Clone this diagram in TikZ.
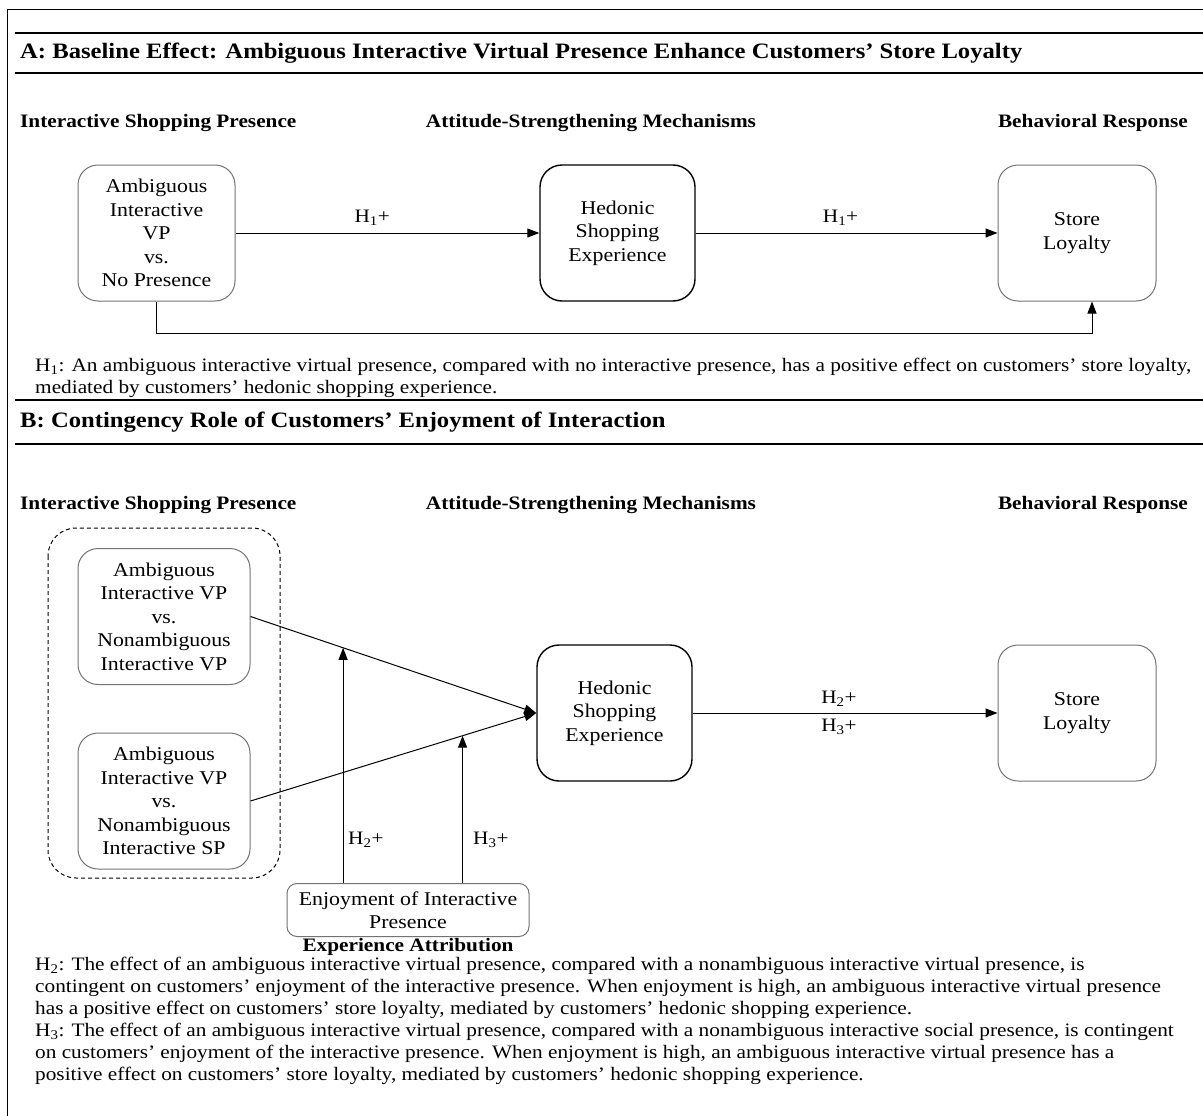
\documentclass[tikz,border=0pt]{standalone}
\usepackage{fontspec}
\setmainfont{Liberation Serif}[FakeStretch=1.12]
\usetikzlibrary{arrows.meta,calc}
\begin{document}
\begin{tikzpicture}[x=1pt,y=-1pt,
  every node/.style={inner sep=0pt},
  body/.style={font=\fontsize{19}{22}\selectfont, align=left},
  head/.style={font=\bfseries\fontsize{22}{26}\selectfont},
  colhead/.style={font=\bfseries\fontsize{19}{23}\selectfont},
  lbl/.style={font=\fontsize{19}{23}\selectfont},
  gbox/.style={draw=black!55, line width=1pt, rounded corners=20pt, align=center,
    font=\fontsize{19.5}{23.5}\selectfont},
  kbox/.style={draw=black, line width=1.4pt, rounded corners=22pt, align=center,
    font=\fontsize{19.5}{23.5}\selectfont},
  arr/.style={-{Triangle[length=12pt,width=9pt]}, line width=1pt},
  rulel/.style={line width=1.3pt}
]
\useasboundingbox (0,0) rectangle (1203,1116);
% outer frame
\draw[line width=1pt] (7,1116) -- (7,10) -- (1203,10);
% panel A rules and heading
\draw[rulel] (15,33) -- (1203,33);
\draw[rulel] (15,73) -- (1203,73);
\node[head, anchor=west] (hA) at (20,53) {A: Baseline Effect: Ambiguous Interactive Virtual Presence Enhance Customers’ Store Loyalty};
% column headings A
\node[colhead, anchor=west] (cA1) at (20,123) {Interactive Shopping Presence};
\node[colhead] (cA2) at (591,123) {Attitude-Strengthening Mechanisms};
\node[colhead, anchor=east] (cA3) at (1188,123) {Behavioral Response};
% boxes A
\node[gbox, minimum width=157pt, minimum height=136pt] (A1) at (156.5,233) {Ambiguous\\Interactive\\VP\\vs.\\No Presence};
\node[kbox, minimum width=155pt, minimum height=136pt] (HA) at (617.5,233) {Hedonic\\Shopping\\Experience};
\node[gbox, minimum width=158pt, minimum height=136pt] (SA) at (1077,233) {Store\\Loyalty};
\draw[arr] (A1.east) -- (HA.west) node[lbl, pos=0.45, above=7pt] {H\textsubscript{1}+};
\draw[arr] (HA.east) -- (SA.west) node[lbl, pos=0.48, above=7pt] {H\textsubscript{1}+};
\coordinate (rA) at (1092,333);
\draw[arr] (A1.south) |- (rA) -- (rA |- SA.south);
% H1 text
\node[body, anchor=north west] (tA) at (35,358) {H\textsubscript{1}: An ambiguous interactive virtual presence, compared with no interactive presence, has a positive effect on customers’ store loyalty,\\mediated by customers’ hedonic shopping experience.};
% panel B rules and heading
\draw[rulel] (15,400) -- (1203,400);
\draw[rulel] (15,444) -- (1203,444);
\node[head, anchor=west] (hB) at (20,422) {B: Contingency Role of Customers’ Enjoyment of Interaction};
% column headings B
\node[colhead, anchor=west] (cB1) at (20,505) {Interactive Shopping Presence};
\node[colhead] (cB2) at (591,505) {Attitude-Strengthening Mechanisms};
\node[colhead, anchor=east] (cB3) at (1188,505) {Behavioral Response};
% dashed group
\draw[dashed, dash pattern=on 4pt off 3pt, line width=1pt, rounded corners=28pt] (48,528) rectangle (280,878);
% boxes B
\node[gbox, minimum width=172pt, minimum height=136pt] (B1) at (164,616.5) {Ambiguous\\Interactive VP\\vs.\\Nonambiguous\\Interactive VP};
\node[gbox, minimum width=172pt, minimum height=136pt] (B2) at (164,801) {Ambiguous\\Interactive VP\\vs.\\Nonambiguous\\Interactive SP};
\node[kbox, minimum width=155pt, minimum height=136pt] (HB) at (614.5,713) {Hedonic\\Shopping\\Experience};
\node[gbox, minimum width=158pt, minimum height=136pt] (SB) at (1077,713) {Store\\Loyalty};
\node[gbox, rounded corners=10pt, minimum width=242pt, minimum height=53pt] (EB) at (408,910) {Enjoyment of Interactive\\Presence};
\node[colhead, anchor=north] (ea) at (EB.south) [yshift=-1pt] {Experience Attribution};
\draw[arr] (B1.east) -- (HB.west);
\draw[arr] (B2.east) -- (HB.west);
\draw[arr] (HB.east) -- (SB.west)
  node[lbl, pos=0.48, above=6pt] {H\textsubscript{2}+}
  node[lbl, pos=0.48, below=6pt] {H\textsubscript{3}+};
\coordinate (m1) at ($(B1.east)!0.324!(HB.west)$);
\coordinate (m2) at ($(B2.east)!0.742!(HB.west)$);
\draw[arr] (EB.north -| m1) -- (m1);
\draw[arr] (EB.north -| m2) -- (m2);
\node[lbl, anchor=west] (l2) at (348,840) {H\textsubscript{2}+};
\node[lbl, anchor=west] (l3) at (473,840) {H\textsubscript{3}+};
% H2/H3 text
\node[body, anchor=north west] (tB) at (35,957) {H\textsubscript{2}: The effect of an ambiguous interactive virtual presence, compared with a nonambiguous interactive virtual presence, is\\contingent on customers’ enjoyment of the interactive presence. When enjoyment is high, an ambiguous interactive virtual presence\\has a positive effect on customers’ store loyalty, mediated by customers’ hedonic shopping experience.\\H\textsubscript{3}: The effect of an ambiguous interactive virtual presence, compared with a nonambiguous interactive social presence, is contingent\\on customers’ enjoyment of the interactive presence. When enjoyment is high, an ambiguous interactive virtual presence has a\\positive effect on customers’ store loyalty, mediated by customers’ hedonic shopping experience.};
\end{tikzpicture}
\end{document}
